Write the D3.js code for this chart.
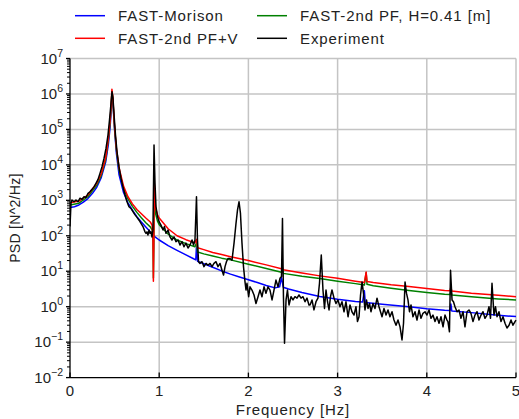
<!DOCTYPE html>
<html><head><meta charset="utf-8">
<script src="https://cdn.jsdelivr.net/npm/d3@7"></script>
<style>
body{margin:0;background:#fff}
text{font-family:"Liberation Sans",Arial,Helvetica,sans-serif;fill:#222}
</style>
</head><body>
<svg id="chart" width="519" height="419"></svg>
<script>
const xTicks = [0, 1, 2, 3, 4, 5];
const yExps = [-2, -1, 0, 1, 2, 3, 4, 5, 6, 7];
const seriesNames = ["FAST-Morison", "FAST-2nd PF+V", "FAST-2nd PF, H=0.41 [m]", "Experiment"];
const seriesColors = ["#0000ff", "#ff0000", "#008000", "#000000"];

const morisonF = [0,0.05,0.10,0.15,0.20,0.25,0.30,0.35,0.40,0.43,0.45,0.46,0.47,0.48,0.49,0.50,0.52,0.55,0.60,0.65,0.70,0.75,0.80,0.85,0.90,0.95,1.00,1.10,1.20,1.30,1.38,1.41,1.42,1.43,1.50,1.60,1.70,1.80,1.90,2.00,2.10,2.20,2.30,2.35,2.37,2.38,2.39,2.45,2.60,2.80,3.00,3.20,3.28,3.30,3.31,3.50,3.80,4.00,4.20,4.26,4.27,4.28,4.50,4.80,5.00];
const morisonV = [631,661,741,891,1120,1550,2340,4370,12000,38000,120000,302000,832000,661000,240000,95500,21400,5250,1660,851,525,347,245,178,129,95,76,52.5,38.9,28.8,22.9,20.9,63,19.1,16.2,12.9,10.2,8.3,6.9,5.75,4.79,3.98,3.39,3.63,6.6,5.0,3.55,3.16,2.51,1.95,1.62,1.41,1.35,2.82,1.32,1.17,1.0,0.87,0.79,0.78,1.2,0.76,0.68,0.575,0.525];

const pfvF = [0,0.10,0.20,0.30,0.35,0.40,0.43,0.45,0.46,0.47,0.48,0.49,0.50,0.52,0.55,0.60,0.65,0.70,0.75,0.80,0.85,0.90,0.92,0.93,0.935,0.94,0.945,0.95,0.96,0.98,1.00,1.10,1.20,1.30,1.40,1.42,1.43,1.50,1.60,1.70,1.80,2.00,2.20,2.37,2.38,2.39,2.60,2.80,3.00,3.20,3.30,3.32,3.33,3.40,3.60,3.80,4.00,4.20,4.26,4.27,4.28,4.50,4.80,5.00];
const pfvV = [851,955,1410,3020,5620,15800,56200,178000,417000,1350000,832000,295000,117000,29500,8320,2510,1260,794,550,417,316,245,200,89,5.2,63,3720,1120,603,398,316,158,100,77.6,63,79,45.7,40.7,33.9,29.5,25.7,20,15.1,11.7,13.2,11,8.9,7.4,6.3,5.25,4.8,9.5,5.1,4.8,4.17,3.72,3.24,2.88,2.82,3.63,2.75,2.4,2.09,1.91];

const pfF = [0,0.10,0.20,0.30,0.35,0.40,0.43,0.45,0.46,0.47,0.48,0.49,0.50,0.52,0.55,0.60,0.65,0.70,0.75,0.80,0.85,0.90,0.92,0.93,0.935,0.94,0.945,0.95,0.96,0.98,1.00,1.10,1.20,1.30,1.40,1.42,1.43,1.50,1.60,1.70,1.80,2.00,2.20,2.37,2.38,2.39,2.60,2.80,3.00,3.20,3.30,3.32,3.33,3.40,3.60,3.80,4.00,4.20,4.26,4.27,4.28,4.50,4.80,5.00];
const pfV = [741,832,1260,2690,5010,14100,50100,158000,380000,1170000,759000,269000,107000,26300,7240,2190,1100,676,457,324,234,178,148,71,6.5,50,2690,891,417,263,204,112,76,60,49,63,34.7,30.9,26.9,23.4,20.9,15.8,12,9.3,10.5,8.7,7.2,6.2,5.25,4.47,4.07,9.1,4.27,3.89,3.31,2.88,2.51,2.24,2.19,2.82,2.14,1.91,1.66,1.55];

const expF = [0,0.011,0.022,0.045,0.067,0.090,0.112,0.135,0.157,0.179,0.202,0.224,0.247,0.269,0.291,0.314,0.336,0.359,0.381,0.404,0.426,0.443,0.460,0.471,0.482,0.493,0.510,0.527,0.549,0.572,0.594,0.617,0.639,0.661,0.684,0.706,0.729,0.751,0.774,0.796,0.818,0.841,0.852,0.863,0.874,0.886,0.897,0.908,0.919,0.930,0.942,0.953,0.964,0.981,0.998,1.020,1.043,1.059,1.076,1.099,1.121,1.143,1.166,1.188,1.211,1.233,1.256,1.278,1.300,1.323,1.345,1.368,1.385,1.401,1.418,1.429,1.441,1.457,1.480,1.502,1.525,1.547,1.570,1.592,1.614,1.637,1.659,1.682,1.704,1.721,1.738,1.754,1.771,1.794,1.816,1.839,1.861,1.878,1.895,1.911,1.928,1.945,1.962,1.973,1.984,2.003,2.018,2.040,2.063,2.085,2.108,2.130,2.152,2.175,2.197,2.220,2.242,2.265,2.287,2.309,2.332,2.354,2.371,2.382,2.393,2.405,2.422,2.438,2.455,2.478,2.500,2.522,2.545,2.567,2.590,2.612,2.635,2.657,2.679,2.691,2.713,2.735,2.758,2.780,2.797,2.817,2.836,2.853,2.870,2.887,2.904,2.920,2.937,2.960,2.982,3.004,3.027,3.049,3.072,3.094,3.117,3.139,3.161,3.184,3.206,3.223,3.240,3.257,3.274,3.290,3.307,3.324,3.341,3.358,3.374,3.397,3.419,3.442,3.464,3.498,3.520,3.543,3.565,3.587,3.610,3.632,3.655,3.677,3.700,3.722,3.739,3.756,3.772,3.789,3.806,3.823,3.845,3.868,3.890,3.913,3.935,3.957,3.980,4.002,4.025,4.047,4.069,4.092,4.114,4.137,4.159,4.182,4.204,4.226,4.237,4.254,4.266,4.283,4.299,4.316,4.339,4.361,4.383,4.406,4.428,4.451,4.473,4.495,4.518,4.540,4.563,4.585,4.608,4.630,4.652,4.675,4.697,4.714,4.731,4.753,4.770,4.787,4.809,4.832,4.854,4.877,4.899,4.922,4.944,4.966,4.989,5.0];
const expV = [182,832,1020,912,1020,912,1150,1070,1260,1200,1580,1740,2040,2400,3020,3890,5750,8910,15100,29500,69200,186000,550000,1150000,759000,282000,69200,23400,8910,4170,2400,1410,912,661,589,479,389,331,275,224,182,129,117,129,105,145,117,129,93,145,36300,3020,661,347,251,200,145,182,117,145,93,76,93,68,76,55,68,49,62,45,55,76,55,76,1260,76,18.6,16.6,18.6,13.5,16.6,14.8,16.6,13.5,16.6,18.6,13.5,16.6,10.7,7.8,13.5,18.6,22.9,22.9,20.4,62,224,537,912,427,62,13.5,5.0,2.95,4.57,1.91,3.63,2.95,2.14,1.23,1.91,2.95,1.91,3.63,2.4,3.63,2.95,1.55,2.95,5.62,3.63,6.31,7.08,309,1.91,0.093,1.55,2.95,1.12,1.91,1.55,1.91,1.74,2.14,1.74,1.91,1.38,1.74,1.12,1.12,1.55,0.81,1.38,1.74,4.57,28.8,2.95,0.89,2.95,1.38,0.81,1.91,2.95,1.74,1.23,1.55,1.0,1.38,0.72,1.38,0.52,1.12,0.72,0.58,1.0,0.38,0.52,2.14,5.0,2.4,0.81,1.55,0.89,1.23,0.72,1.23,0.89,1.74,1.0,0.52,0.89,0.58,0.81,0.52,0.72,0.42,0.30,0.42,0.27,0.115,0.34,5.0,2.4,1.55,0.72,1.12,0.52,0.72,0.42,0.81,0.47,0.65,0.72,0.58,0.81,0.47,0.58,0.38,0.52,0.34,0.52,0.27,0.58,0.42,0.38,0.195,10.7,1.55,1.38,1.0,0.72,0.81,0.47,0.72,0.27,0.72,0.81,0.65,0.38,0.58,0.72,0.42,0.58,0.72,0.47,0.58,1.0,0.47,4.57,0.58,1.0,0.52,0.72,0.38,0.52,0.34,0.25,0.30,0.42,0.30,0.38,0.42];

const W = 519, H = 419;
const L = 70, R = 516, T = 58.5, B = 377.6;
const svg = d3.select("#chart");
const x = d3.scaleLinear().domain([0, 5]).range([L, R]);
const y = d3.scaleLog().domain([1e-2, 1e7]).range([B, T]);

// grid
const grid = svg.append("g").attr("stroke", "#c4c4c4").attr("stroke-width", 1.5);
grid.selectAll("line.v").data(xTicks.filter(d => d > 0)).enter().append("line")
  .attr("x1", d => x(d)).attr("x2", d => x(d)).attr("y1", T).attr("y2", B);
grid.selectAll("line.h").data(yExps.filter(e => e > -2)).enter().append("line")
  .attr("x1", L).attr("x2", R).attr("y1", e => y(Math.pow(10, e))).attr("y2", e => y(Math.pow(10, e)));

// clip
svg.append("clipPath").attr("id", "clip").append("rect")
  .attr("x", L).attr("y", T - 1).attr("width", R - L + 1).attr("height", B - T + 1);

const line = d3.line().x(d => x(d[0])).y(d => y(d[1]));
const series = [
  [morisonF, morisonV, 0],
  [pfF, pfV, 2],
  [pfvF, pfvV, 1],
  [expF, expV, 3]
];
const plot = svg.append("g").attr("clip-path", "url(#clip)");
series.forEach(([fs, vs, ci]) => {
  plot.append("path")
    .datum(fs.map((f, i) => [f, vs[i]]))
    .attr("fill", "none")
    .attr("stroke", seriesColors[ci])
    .attr("stroke-width", 1.5)
    .attr("stroke-linejoin", "round")
    .attr("d", line);
});

// axes
const ax = svg.append("g").attr("stroke", "#000").attr("stroke-width", 1.3);
ax.append("line").attr("x1", L).attr("x2", L).attr("y1", T).attr("y2", B);
ax.append("line").attr("x1", L).attr("x2", R).attr("y1", B).attr("y2", B);
// x ticks (inward)
ax.selectAll("line.xt").data(xTicks).enter().append("line")
  .attr("x1", d => x(d)).attr("x2", d => x(d)).attr("y1", B).attr("y2", B - 5);
// y major ticks
ax.selectAll("line.yt").data(yExps).enter().append("line")
  .attr("x1", L - 4).attr("x2", L).attr("y1", e => y(Math.pow(10, e))).attr("y2", e => y(Math.pow(10, e)));
// y minor ticks
const minors = [];
yExps.slice(0, -1).forEach(e => { for (let k = 2; k <= 9; k++) minors.push(k * Math.pow(10, e)); });
ax.selectAll("line.ym").data(minors).enter().append("line")
  .attr("stroke-width", 1)
  .attr("x1", L - 3).attr("x2", L).attr("y1", d => y(d)).attr("y2", d => y(d));

// x tick labels
svg.selectAll("text.xl").data(xTicks).enter().append("text")
  .attr("x", d => x(d)).attr("y", 396).attr("text-anchor", "middle")
  .attr("font-size", 15).text(d => d);

// y tick labels
const yl = svg.selectAll("text.yl").data(yExps).enter().append("text")
  .attr("x", 63).attr("y", e => y(Math.pow(10, e)) + 5).attr("text-anchor", "end")
  .attr("font-size", 15);
yl.append("tspan").text("10");
yl.append("tspan").attr("dy", -7).attr("font-size", 10.5).text(e => e < 0 ? "\u2212" + Math.abs(e) : e);

// axis titles
svg.append("text").attr("x", (L + R) / 2).attr("y", 415).attr("text-anchor", "middle")
  .attr("font-size", 15).attr("letter-spacing", 0.9).text("Frequency [Hz]");
svg.append("text").attr("transform", `translate(20,${(T + B) / 2}) rotate(-90)`)
  .attr("text-anchor", "middle").attr("font-size", 14).attr("letter-spacing", 0.3).text("PSD [N^2/Hz]");

// legend
const legendPos = [[75, 15.7], [75, 38.3], [257, 15.7], [257, 38.3]];
seriesNames.forEach((name, i) => {
  const [lx, ly] = legendPos[i];
  svg.append("line").attr("x1", lx).attr("x2", lx + 30).attr("y1", ly).attr("y2", ly)
    .attr("stroke", seriesColors[i]).attr("stroke-width", 1.5);
  svg.append("text").attr("x", lx + 43).attr("y", ly + 5.2).attr("font-size", 15)
    .attr("letter-spacing", 0.9).text(name);
});
</script>
</body></html>
